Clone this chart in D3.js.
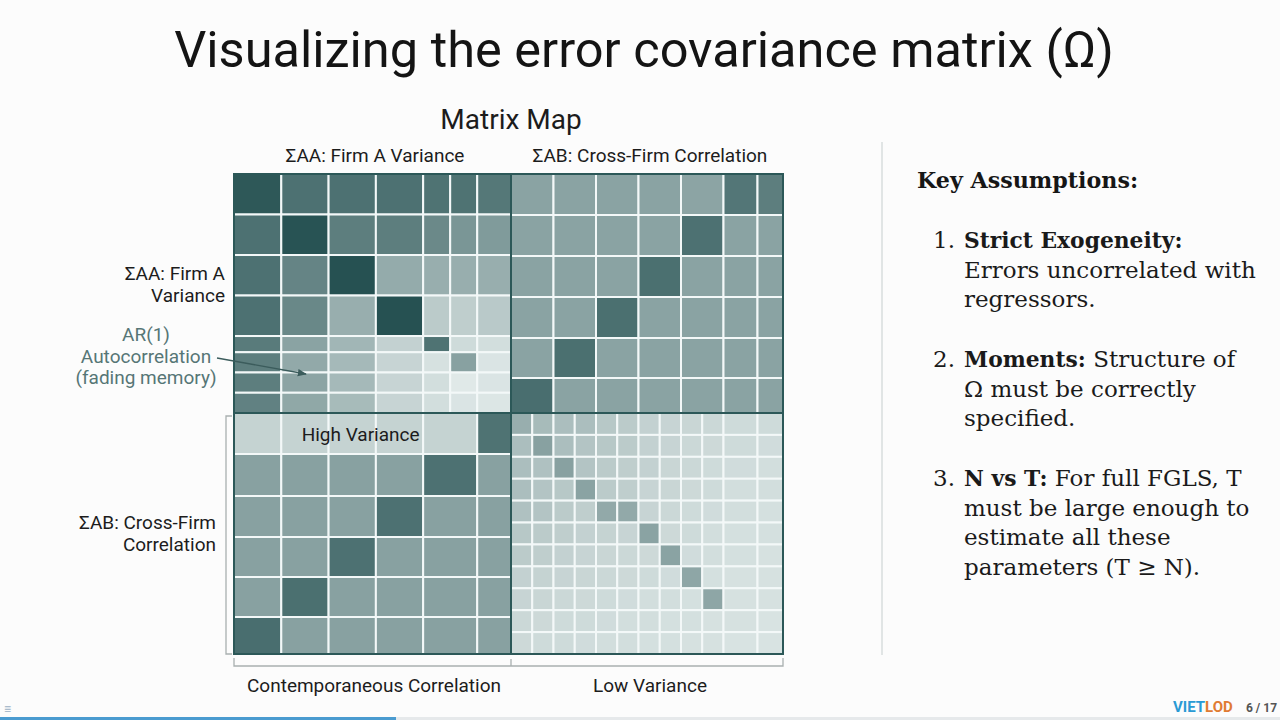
<!DOCTYPE html>
<html>
<head>
<meta charset="utf-8">
<script src="https://cdn.jsdelivr.net/npm/d3@7"></script>
<style>
  html, body { margin: 0; padding: 0; background: #fcfcfc; }
  svg { display: block; }
</style>
</head>
<body>
<div id="vis"></div>
<script>
const WIDTH = 1280;
const HEIGHT = 720;

// cell intensities (0 = light, 1 = dark)
const aaValues = [
  [0.94, 0.78, 0.78, 0.78, 0.77, 0.77, 0.74],
  [0.78, 0.97, 0.70, 0.70, 0.63, 0.55, 0.52],
  [0.78, 0.66, 0.98, 0.42, 0.40, 0.40, 0.40],
  [0.78, 0.64, 0.40, 0.98, 0.22, 0.20, 0.23],
  [0.72, 0.47, 0.35, 0.18, 0.77, 0.12, 0.10],
  [0.70, 0.43, 0.33, 0.16, 0.08, 0.48, 0.06],
  [0.70, 0.46, 0.33, 0.16, 0.10, 0.03, 0.06],
  [0.68, 0.44, 0.32, 0.16, 0.10, 0.06, 0.05]
];
const abTopValues = [
  [0.47, 0.47, 0.47, 0.47, 0.46, 0.75, 0.70],
  [0.47, 0.47, 0.47, 0.47, 0.78, 0.47, 0.47],
  [0.47, 0.47, 0.47, 0.79, 0.47, 0.47, 0.47],
  [0.47, 0.47, 0.79, 0.47, 0.47, 0.47, 0.47],
  [0.47, 0.79, 0.47, 0.47, 0.47, 0.47, 0.47],
  [0.80, 0.47, 0.47, 0.47, 0.47, 0.47, 0.47]
];
const abBottomValues = [
  [0.17, 0.17, 0.17, 0.17, 0.17, 0.77],
  [0.48, 0.48, 0.48, 0.48, 0.78, 0.48],
  [0.48, 0.48, 0.48, 0.78, 0.48, 0.48],
  [0.48, 0.48, 0.78, 0.48, 0.48, 0.48],
  [0.48, 0.79, 0.48, 0.48, 0.48, 0.48],
  [0.80, 0.48, 0.48, 0.48, 0.48, 0.48]
];
const lowValues = [
  [0.40, 0.32, 0.30, 0.30, 0.24, 0.22, 0.18, 0.16, 0.15, 0.14, 0.12, 0.12],
  [0.30, 0.48, 0.30, 0.26, 0.24, 0.22, 0.18, 0.16, 0.14, 0.13, 0.12, 0.11],
  [0.30, 0.28, 0.48, 0.26, 0.22, 0.20, 0.18, 0.15, 0.14, 0.12, 0.11, 0.10],
  [0.30, 0.26, 0.24, 0.47, 0.22, 0.20, 0.16, 0.15, 0.13, 0.12, 0.10, 0.10],
  [0.28, 0.26, 0.22, 0.20, 0.43, 0.43, 0.16, 0.14, 0.12, 0.11, 0.10, 0.09],
  [0.24, 0.22, 0.20, 0.18, 0.17, 0.16, 0.47, 0.13, 0.12, 0.10, 0.09, 0.09],
  [0.22, 0.20, 0.18, 0.16, 0.15, 0.14, 0.13, 0.47, 0.11, 0.10, 0.09, 0.08],
  [0.18, 0.17, 0.16, 0.15, 0.14, 0.13, 0.12, 0.11, 0.45, 0.09, 0.08, 0.08],
  [0.16, 0.15, 0.14, 0.13, 0.12, 0.11, 0.10, 0.10, 0.09, 0.45, 0.08, 0.08],
  [0.14, 0.13, 0.12, 0.12, 0.11, 0.10, 0.10, 0.09, 0.09, 0.08, 0.08, 0.07],
  [0.13, 0.12, 0.12, 0.11, 0.10, 0.10, 0.09, 0.09, 0.08, 0.08, 0.07, 0.07]
];

const title = "Visualizing the error covariance matrix (Ω)";
const mapTitle = "Matrix Map";
const topLabels = ["ΣAA: Firm A Variance", "ΣAB: Cross-Firm Correlation"];
const bottomLabels = ["Contemporaneous Correlation", "Low Variance"];
const leftAA = ["ΣAA: Firm A", "Variance"];
const leftAB = ["ΣAB: Cross-Firm", "Correlation"];
const arNote = ["AR(1)", "Autocorrelation", "(fading memory)"];
const bandLabel = "High Variance";

const assumptionsHead = "Key Assumptions:";
const assumptions = [
  {num: "1.", lines: [[["Strict Exogeneity:", true]], [["Errors uncorrelated with", false]], [["regressors.", false]]]},
  {num: "2.", lines: [[["Moments:", true], [" Structure of", false]], [["Ω must be correctly", false]], [["specified.", false]]]},
  {num: "3.", lines: [[["N vs T:", true], [" For full FGLS, T", false]], [["must be large enough to", false]], [["estimate all these", false]], [["parameters (T ≥ N).", false]]]}
];

// layout: relative widths of grid columns / rows per block
const MX = {x0: 234, xm: 511, x1: 783, y0: 174, ym: 413, y1: 654};
const blocks = [
  {vals: aaValues, cols: [7,7,7,7,4,4,5], rows: [10,10,10,10,4,5,5,5], x: [MX.x0, MX.xm], y: [MX.y0, MX.ym]},
  {vals: abTopValues, cols: [5,5,5,5,5,4,3], rows: [41,41,41,41,40,35], x: [MX.xm, MX.x1], y: [MX.y0, MX.ym]},
  {vals: abBottomValues, cols: [7,7,7,7,8,5], rows: [41,42,41,40,40,37], x: [MX.x0, MX.xm], y: [MX.ym, MX.y1]},
  {vals: lowValues, cols: [20,20,20,20,20,20,20,20,20,20,32,24], rows: [1,1,1,1,1,1,1,1,1,1,1], x: [MX.xm, MX.x1], y: [MX.ym, MX.y1]}
];

const SANS = "Roboto, 'Noto Sans', sans-serif";
const SERIF = "'DejaVu Serif', serif";

const color = d3.scaleLinear().domain([0, 1]).range(["#e6eeed", "#224e4f"]);

const svg = d3.select("#vis").append("svg")
  .attr("width", WIDTH).attr("height", HEIGHT);

svg.append("rect").attr("width", WIDTH).attr("height", HEIGHT).attr("fill", "#fcfcfc");

svg.append("text")
  .attr("x", 644).attr("y", 67)
  .attr("text-anchor", "middle")
  .attr("font-family", SANS).attr("font-size", 50.5)
  .attr("fill", "#141414")
  .text(title);

// matrix blocks
const cellG = svg.append("g");
const blockScales = blocks.map(b => {
  const cx = [0, ...Array.from(d3.cumsum(b.cols))];
  const cy = [0, ...Array.from(d3.cumsum(b.rows))];
  const xs = d3.scaleLinear().domain([0, d3.sum(b.cols)]).range(b.x);
  const ys = d3.scaleLinear().domain([0, d3.sum(b.rows)]).range(b.y);
  const cells = [];
  b.vals.forEach((row, i) => row.forEach((v, j) => cells.push({i, j, v})));
  cellG.append("g").selectAll("rect")
    .data(cells)
    .join("rect")
      .attr("x", d => xs(cx[d.j]))
      .attr("y", d => ys(cy[d.i]))
      .attr("width", d => xs(cx[d.j + 1]) - xs(cx[d.j]))
      .attr("height", d => ys(cy[d.i + 1]) - ys(cy[d.i]))
      .attr("fill", d => color(d.v))
      .attr("stroke", "#f3f8f8")
      .attr("stroke-width", 2);
  return {xs, ys, cx, cy};
});

// outline and quadrant dividers
const lineColor = "#2c5858";
svg.append("rect")
  .attr("x", MX.x0).attr("y", MX.y0)
  .attr("width", MX.x1 - MX.x0).attr("height", MX.y1 - MX.y0)
  .attr("fill", "none").attr("stroke", lineColor).attr("stroke-width", 2);
svg.append("line").attr("x1", MX.xm).attr("x2", MX.xm).attr("y1", MX.y0).attr("y2", MX.y1)
  .attr("stroke", lineColor).attr("stroke-width", 2);
svg.append("line").attr("x1", MX.x0).attr("x2", MX.x1).attr("y1", MX.ym).attr("y2", MX.ym)
  .attr("stroke", lineColor).attr("stroke-width", 2);

// "High Variance" band label
const bl = blockScales[2];
svg.append("text")
  .attr("x", (bl.xs(bl.cx[0]) + bl.xs(bl.cx[5])) / 2 + 5)
  .attr("y", (bl.ys(bl.cy[0]) + bl.ys(bl.cy[1])) / 2 + 7)
  .attr("text-anchor", "middle")
  .attr("font-family", SANS).attr("font-size", 19).attr("fill", "#1c1c1c")
  .text(bandLabel);

// labels
const label = (x, y, t, anchor, size, fill) => svg.append("text")
  .attr("x", x).attr("y", y).attr("text-anchor", anchor)
  .attr("font-family", SANS).attr("font-size", size).attr("fill", fill || "#1c1c1c")
  .text(t);

label(511, 129, mapTitle, "middle", 28);
label(375, 162, topLabels[0], "middle", 19);
label(650, 162, topLabels[1], "middle", 19);
label(374, 692, bottomLabels[0], "middle", 19);
label(650, 692, bottomLabels[1], "middle", 19);
leftAA.forEach((t, i) => label(225, 280 + i * 21.5, t, "end", 19));
leftAB.forEach((t, i) => label(216, 529 + i * 21.5, t, "end", 19));
arNote.forEach((t, i) => label(146, 341 + i * 21.5, t, "middle", 19, "#567676"));

// arrow from note into the AR(1) region
svg.append("defs").append("marker")
  .attr("id", "arr").attr("viewBox", "0 0 10 10")
  .attr("refX", 9).attr("refY", 5)
  .attr("markerWidth", 7).attr("markerHeight", 7)
  .attr("orient", "auto")
  .append("path").attr("d", "M0,1 L10,5 L0,9 Z").attr("fill", "#3b5c5c");
svg.append("line")
  .attr("x1", 217).attr("y1", 358).attr("x2", 306).attr("y2", 374)
  .attr("stroke", "#3b5c5c").attr("stroke-width", 1.3)
  .attr("marker-end", "url(#arr)");

// brackets
const brk = "#a9b0b0";
svg.append("path")
  .attr("d", `M232,416 H226 V654 H232`)
  .attr("fill", "none").attr("stroke", brk).attr("stroke-width", 1.3);
svg.append("path")
  .attr("d", `M234,658 V666 H783 V658 M511,666 V659`)
  .attr("fill", "none").attr("stroke", brk).attr("stroke-width", 1.3);

// right panel
svg.append("line").attr("x1", 882).attr("x2", 882).attr("y1", 142).attr("y2", 655)
  .attr("stroke", "#d9dede").attr("stroke-width", 1.5);

svg.append("text")
  .attr("x", 917).attr("y", 188)
  .attr("font-family", SERIF).attr("font-weight", "bold").attr("font-size", 22.2)
  .attr("fill", "#161616")
  .text(assumptionsHead);

const itemTop = [248, 367, 486];
const lh = 29.7;
assumptions.forEach((a, k) => {
  svg.append("text")
    .attr("x", 955).attr("y", itemTop[k]).attr("text-anchor", "end")
    .attr("font-family", SERIF).attr("font-size", 23).attr("fill", "#1a1a1a")
    .text(a.num);
  a.lines.forEach((ln, i) => {
    const t = svg.append("text")
      .attr("x", 964).attr("y", itemTop[k] + i * lh)
      .attr("font-family", SERIF).attr("font-size", 23).attr("fill", "#1a1a1a");
    ln.forEach(([s, b]) => t.append("tspan")
      .attr("font-weight", b ? "bold" : "normal")
      .attr("font-size", b ? 21.8 : 23)
      .text(s));
  });
});

// footer
const ft = svg.append("text").attr("x", 1173).attr("y", 712)
  .attr("font-family", SANS).attr("font-weight", "bold").attr("font-size", 15);
ft.append("tspan").attr("fill", "#2a9ad4").text("VIET");
ft.append("tspan").attr("fill", "#e07b32").text("LOD");
svg.append("text").attr("x", 1246).attr("y", 712)
  .attr("font-family", SANS).attr("font-weight", "bold").attr("font-size", 12)
  .attr("fill", "#555").text("6 / 17");
svg.append("text").attr("x", 4).attr("y", 713)
  .attr("font-family", SANS).attr("font-size", 12).attr("fill", "#9bb0c4").text("≡");
svg.append("rect").attr("x", 0).attr("y", 717).attr("width", WIDTH).attr("height", 3).attr("fill", "#e6e9eb");
svg.append("rect").attr("x", 0).attr("y", 717).attr("width", 396).attr("height", 3).attr("fill", "#4a9bd0");
</script>
</body>
</html>
